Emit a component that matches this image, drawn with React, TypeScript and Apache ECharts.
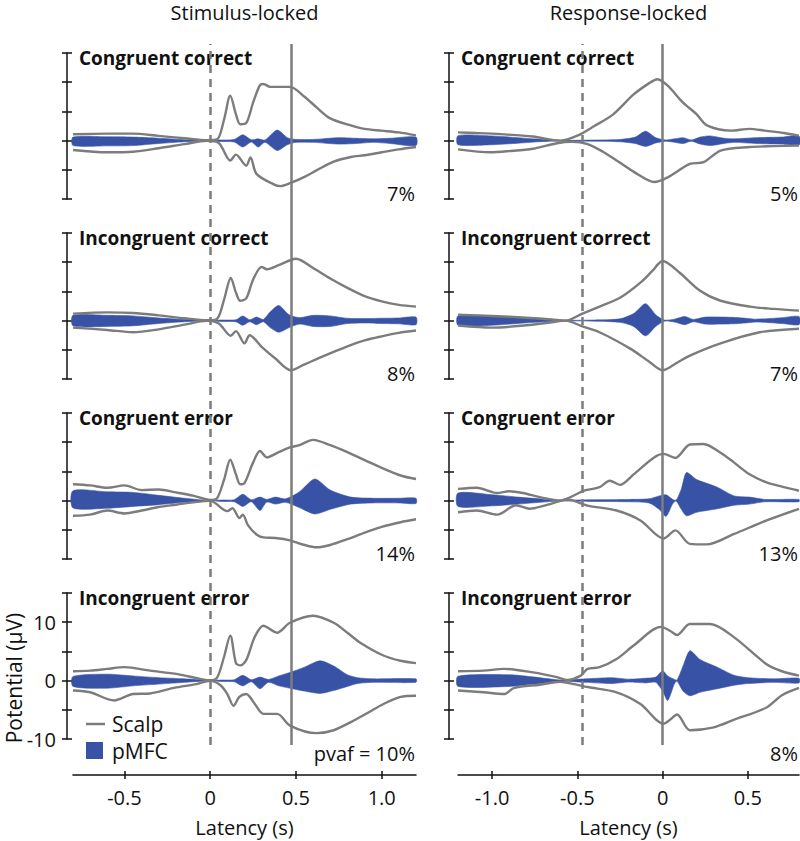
import React, { useEffect, useRef } from "react";
import * as echarts from "echarts";

type P = [number, number];
type B = [number, number, number];

const columnTitles = ["Stimulus-locked", "Response-locked"];
const panelTitles = ["Congruent correct", "Incongruent correct", "Congruent error", "Incongruent error"];
const stimPvaf = ["7%", "8%", "14%", "pvaf = 10%"];
const respPvaf = ["5%", "7%", "13%", "8%"];
const stimXRange = [-0.8, 1.2];
const respXRange = [-1.2, 0.8];
const stimXTicks = [-0.5, 0, 0.5, 1.0];
const respXTicks = [-1.0, -0.5, 0, 0.5];
const yRange = [-10, 15];
const yLabelTicks = [-10, 0, 10];
const stimMarkers = [0, 0.465]; // dashed, solid
const respMarkers = [-0.465, 0]; // dashed, solid

// ---------- Stimulus-locked ----------
const stimCCScalpUpper: P[] = [[-0.8,1.1],[-0.6,1.2],[-0.45,1.2],[-0.3,0.8],[-0.15,0.4],[-0.02,0.05],[0.04,0.2],[0.08,3.5],[0.117,7.7],[0.15,4.5],[0.175,2.8],[0.21,3.0],[0.25,6.5],[0.29,9.5],[0.31,9.7],[0.35,9.2],[0.465,9.2],[0.55,7.5],[0.62,5.7],[0.7,3.8],[0.82,2.6],[0.9,2.0],[1.0,1.7],[1.1,1.4],[1.2,0.9]];
const stimCCScalpLower: P[] = [[-0.8,-1.6],[-0.6,-2.0],[-0.45,-1.9],[-0.3,-1.3],[-0.15,-0.6],[-0.02,-0.05],[0.05,-0.4],[0.117,-3.4],[0.15,-2.4],[0.21,-4.3],[0.235,-2.9],[0.27,-5.7],[0.37,-7.5],[0.41,-7.8],[0.465,-7.3],[0.55,-6.2],[0.62,-5.1],[0.72,-3.6],[0.82,-2.8],[0.9,-2.5],[1.0,-2.0],[1.1,-1.5],[1.2,-1.1]];
const stimCCPmfc: B[] = [[-0.8,-0.85,0.6],[-0.6,-0.9,0.65],[-0.45,-0.85,0.6],[-0.3,-0.5,0.4],[-0.15,-0.2,0.15],[-0.03,-0.05,0.05],[0.05,-0.15,0.1],[0.14,-0.25,0.2],[0.19,-1.1,1.0],[0.24,-0.25,0.15],[0.28,-1.1,0.3],[0.32,-0.3,0.1],[0.39,-1.7,1.8],[0.45,-0.7,0.5],[0.5,-0.3,0.2],[0.6,-0.3,0.2],[0.75,-0.6,0.5],[0.85,-0.5,0.4],[0.95,-0.3,0.3],[1.05,-0.5,0.4],[1.2,-0.85,0.6]];

const stimICScalpUpper: P[] = [[-0.8,1.2],[-0.6,1.4],[-0.45,1.3],[-0.3,0.9],[-0.15,0.4],[-0.02,0.05],[0.04,0.3],[0.08,3.5],[0.12,7.3],[0.15,4.8],[0.175,3.4],[0.21,3.8],[0.25,7.0],[0.3,9.2],[0.33,8.8],[0.4,9.5],[0.5,10.6],[0.6,9.0],[0.7,7.2],[0.8,5.6],[0.9,4.2],[1.0,3.3],[1.1,2.7],[1.2,2.4]];
const stimICScalpLower: P[] = [[-0.8,-1.2],[-0.6,-1.6],[-0.45,-2.0],[-0.3,-1.5],[-0.15,-0.7],[-0.02,-0.05],[0.05,-0.5],[0.12,-2.6],[0.15,-1.8],[0.2,-3.9],[0.23,-2.5],[0.3,-4.5],[0.38,-6.5],[0.47,-8.5],[0.55,-7.5],[0.65,-6.2],[0.8,-4.4],[0.9,-3.4],[1.0,-2.7],[1.1,-2.1],[1.2,-1.7]];
const stimICPmfc: B[] = [[-0.8,-0.9,0.9],[-0.6,-1.0,0.9],[-0.45,-0.9,0.8],[-0.3,-0.5,0.45],[-0.15,-0.2,0.2],[-0.03,-0.05,0.05],[0.08,-0.15,0.1],[0.15,-0.2,0.15],[0.19,-0.8,0.8],[0.23,-0.2,0.15],[0.27,-0.7,0.6],[0.31,-0.2,0.2],[0.35,-1.2,1.5],[0.4,-2.0,2.6],[0.46,-1.2,1.0],[0.52,-0.6,0.5],[0.6,-1.0,0.9],[0.7,-1.0,0.8],[0.8,-0.5,0.4],[0.9,-0.4,0.35],[1.0,-0.5,0.4],[1.1,-0.55,0.45],[1.2,-0.7,0.6]];

const stimCEScalpUpper: P[] = [[-0.8,2.8],[-0.7,2.6],[-0.6,2.2],[-0.5,2.6],[-0.4,1.8],[-0.3,1.9],[-0.2,1.4],[-0.1,0.85],[0,0.1],[0.04,0.4],[0.08,3.5],[0.117,7.0],[0.15,4.5],[0.175,2.8],[0.2,3.0],[0.25,6.5],[0.29,8.5],[0.33,7.4],[0.4,8.3],[0.465,9.1],[0.52,9.5],[0.6,10.4],[0.7,9.5],[0.8,8.3],[0.91,6.8],[1.0,5.6],[1.11,4.3],[1.2,3.7]];
const stimCEScalpLower: P[] = [[-0.8,-2.6],[-0.7,-2.4],[-0.6,-1.7],[-0.5,-2.2],[-0.4,-1.7],[-0.3,-1.1],[-0.2,-0.7],[-0.1,-0.3],[0,-0.05],[0.1,-1.8],[0.13,-1.3],[0.17,-3.0],[0.19,-2.4],[0.22,-4.2],[0.27,-5.8],[0.31,-6.3],[0.38,-6.4],[0.465,-6.8],[0.55,-7.6],[0.62,-8.0],[0.7,-7.6],[0.8,-6.6],[0.91,-5.4],[1.0,-4.5],[1.11,-3.7],[1.2,-3.2]];
const stimCEPmfc: B[] = [[-0.8,-1.25,1.7],[-0.6,-1.3,1.5],[-0.45,-1.0,1.4],[-0.3,-0.7,0.9],[-0.15,-0.3,0.4],[-0.02,-0.05,0.05],[0.08,-0.15,0.1],[0.14,-0.2,0.15],[0.19,-1.0,1.1],[0.24,-0.2,0.15],[0.29,-1.7,0.6],[0.33,-0.25,0.2],[0.38,-0.6,0.6],[0.44,-0.3,0.3],[0.52,-1.2,1.5],[0.61,-2.3,3.7],[0.7,-1.5,1.8],[0.82,-0.6,0.6],[0.95,-0.4,0.4],[1.1,-0.4,0.4],[1.2,-0.5,0.4]];

const stimIEScalpUpper: P[] = [[-0.8,1.6],[-0.7,1.7],[-0.6,2.0],[-0.5,2.3],[-0.35,1.7],[-0.19,1.1],[-0.06,0.3],[0,0.05],[0.04,0.5],[0.08,4.0],[0.117,7.7],[0.15,3.0],[0.175,2.6],[0.21,3.5],[0.26,7.5],[0.31,9.4],[0.39,8.2],[0.465,9.9],[0.6,11.1],[0.72,9.9],[0.8,8.2],[0.875,6.5],[1.01,4.3],[1.11,3.4],[1.2,3.0]];
const stimIEScalpLower: P[] = [[-0.8,-1.7],[-0.7,-2.0],[-0.56,-3.4],[-0.45,-2.3],[-0.35,-2.2],[-0.21,-1.25],[-0.08,-0.6],[0,-0.05],[0.06,-0.8],[0.1,-2.3],[0.136,-4.3],[0.17,-2.8],[0.21,-2.3],[0.26,-4.0],[0.31,-5.7],[0.39,-5.7],[0.465,-7.7],[0.62,-9.0],[0.72,-8.5],[0.82,-7.1],[0.92,-5.5],[1.01,-4.0],[1.11,-2.8],[1.2,-2.6]];
const stimIEPmfc: B[] = [[-0.8,-1.0,0.7],[-0.6,-1.3,1.1],[-0.45,-0.9,0.8],[-0.3,-0.6,0.5],[-0.15,-0.3,0.3],[-0.02,-0.05,0.05],[0.08,-0.15,0.1],[0.14,-0.2,0.15],[0.19,-0.9,0.9],[0.24,-0.2,0.15],[0.29,-1.4,0.6],[0.34,-0.3,0.2],[0.4,-0.9,0.8],[0.465,-1.3,1.4],[0.55,-1.8,2.3],[0.64,-2.2,3.4],[0.72,-1.7,2.5],[0.8,-1.0,1.0],[0.86,-0.5,0.5],[0.95,-0.3,0.3],[1.2,-0.3,0.3]];

// ---------- Response-locked ----------
const respCCScalpUpper: P[] = [[-1.2,1.4],[-1.1,1.3],[-0.95,1.1],[-0.76,0.7],[-0.6,0.0],[-0.5,0.85],[-0.4,2.5],[-0.29,4.5],[-0.17,7.9],[-0.08,9.8],[-0.03,10.5],[0.03,9.4],[0.12,6.5],[0.2,4.5],[0.26,2.6],[0.4,1.7],[0.51,2.0],[0.6,1.7],[0.71,1.3],[0.8,0.85]];
const respCCScalpLower: P[] = [[-1.2,-1.5],[-1.01,-2.0],[-0.9,-1.8],[-0.76,-1.4],[-0.62,-0.45],[-0.53,-0.2],[-0.44,-0.6],[-0.35,-1.9],[-0.27,-3.4],[-0.15,-5.7],[-0.05,-7.1],[0.03,-6.3],[0.16,-4.0],[0.24,-3.7],[0.34,-1.7],[0.51,-1.1],[0.65,-0.95],[0.8,-0.85]];
const respCCPmfc: B[] = [[-1.2,-0.7,0.85],[-1.0,-0.7,0.8],[-0.85,-0.45,0.5],[-0.7,-0.15,0.2],[-0.6,-0.05,0.05],[-0.4,-0.1,0.1],[-0.25,-0.2,0.2],[-0.16,-0.5,0.6],[-0.1,-1.0,1.6],[-0.04,-0.4,0.5],[0.02,-0.1,0.1],[0.07,-0.3,0.3],[0.12,-0.5,0.5],[0.17,-0.1,0.1],[0.22,-0.6,0.6],[0.28,-0.85,0.8],[0.36,-0.5,0.4],[0.42,-0.3,0.3],[0.55,-0.5,0.5],[0.7,-0.6,0.6],[0.8,-0.8,0.8]];

const respICScalpUpper: P[] = [[-1.2,1.0],[-1.0,0.8],[-0.8,0.5],[-0.65,0.2],[-0.57,0.0],[-0.47,1.2],[-0.37,2.4],[-0.25,3.9],[-0.13,6.5],[-0.06,8.5],[0.0,10.2],[0.1,8.2],[0.22,5.1],[0.34,3.4],[0.51,2.4],[0.65,2.0],[0.8,1.7]];
const respICScalpLower: P[] = [[-1.2,-0.85],[-1.0,-1.2],[-0.8,-0.8],[-0.65,-0.3],[-0.57,0.0],[-0.47,-1.0],[-0.37,-2.0],[-0.19,-4.8],[-0.08,-7.0],[0.0,-8.5],[0.08,-7.3],[0.16,-6.0],[0.34,-3.9],[0.57,-2.0],[0.8,-1.4]];
const respICPmfc: B[] = [[-1.2,-0.8,0.8],[-1.0,-0.8,0.8],[-0.85,-0.5,0.5],[-0.7,-0.2,0.2],[-0.6,-0.05,0.05],[-0.4,-0.1,0.1],[-0.25,-0.3,0.3],[-0.17,-1.0,1.2],[-0.1,-2.6,2.9],[-0.04,-1.0,1.0],[0.01,-0.1,0.1],[0.07,-0.25,0.25],[0.13,-0.7,0.7],[0.18,-0.2,0.2],[0.25,-0.6,0.6],[0.35,-0.6,0.6],[0.45,-0.5,0.5],[0.55,-0.25,0.25],[0.7,-0.5,0.5],[0.8,-0.7,0.7]];

const respCEScalpUpper: P[] = [[-1.2,2.0],[-1.09,2.2],[-0.97,1.3],[-0.9,1.6],[-0.82,1.3],[-0.72,0.6],[-0.6,0.0],[-0.54,0.6],[-0.46,1.7],[-0.37,2.3],[-0.31,3.4],[-0.25,2.7],[-0.17,4.5],[-0.05,7.4],[0.006,8.0],[0.075,7.3],[0.16,9.6],[0.24,9.7],[0.34,8.2],[0.42,6.5],[0.51,4.5],[0.61,3.1],[0.7,2.4],[0.8,1.7]];
const respCEScalpLower: P[] = [[-1.2,-2.0],[-1.09,-1.7],[-0.97,-2.4],[-0.86,-0.8],[-0.78,-1.4],[-0.66,-0.6],[-0.56,0.2],[-0.44,-0.85],[-0.27,-1.7],[-0.13,-3.4],[0.006,-6.5],[0.075,-5.1],[0.16,-7.4],[0.26,-7.5],[0.42,-5.7],[0.61,-3.4],[0.8,-1.4]];
const respCEPmfc: B[] = [[-1.2,-1.0,1.3],[-1.0,-0.9,1.0],[-0.85,-0.6,0.6],[-0.7,-0.25,0.25],[-0.6,-0.08,0.08],[-0.4,-0.15,0.15],[-0.2,-0.2,0.2],[-0.08,-0.4,0.3],[-0.02,-1.5,0.8],[0.02,-2.7,1.0],[0.06,-0.5,0.2],[0.08,-0.1,0.1],[0.11,-1.5,2.0],[0.14,-2.6,4.8],[0.2,-2.0,3.6],[0.32,-1.4,2.3],[0.42,-0.8,0.8],[0.51,-0.6,0.6],[0.6,-0.2,0.2],[0.8,-0.2,0.2]];

const respIEScalpUpper: P[] = [[-1.2,1.6],[-1.05,1.7],[-0.93,2.0],[-0.76,1.4],[-0.62,0.6],[-0.56,0.1],[-0.48,0.85],[-0.44,2.0],[-0.37,2.3],[-0.27,3.7],[-0.17,6.0],[-0.01,9.2],[0.045,8.5],[0.085,7.8],[0.16,9.7],[0.28,9.7],[0.42,7.4],[0.61,2.8],[0.7,1.6],[0.8,0.85]];
const respIEScalpLower: P[] = [[-1.2,-1.7],[-1.05,-2.0],[-0.93,-2.3],[-0.87,-1.25],[-0.72,-0.7],[-0.6,-0.2],[-0.52,-0.6],[-0.44,-1.1],[-0.27,-2.0],[-0.13,-4.0],[0.006,-7.4],[0.04,-6.8],[0.085,-5.8],[0.16,-8.5],[0.3,-8.0],[0.42,-6.7],[0.61,-4.6],[0.7,-2.5],[0.8,-1.25]];
const respIEPmfc: B[] = [[-1.2,-1.0,0.75],[-0.9,-1.0,1.0],[-0.75,-0.6,0.6],[-0.6,-0.1,0.1],[-0.45,-0.3,0.3],[-0.3,-0.5,0.5],[-0.2,-0.25,0.25],[-0.1,-0.4,0.4],[-0.04,-0.3,0.6],[0.0,-1.8,1.7],[0.03,-3.4,0.8],[0.07,-0.5,0.2],[0.085,-0.1,0.1],[0.12,-1.8,2.5],[0.16,-2.6,5.1],[0.22,-2.0,3.6],[0.32,-1.4,2.3],[0.42,-0.8,0.9],[0.5,-0.5,0.5],[0.65,-0.3,0.3],[0.8,-0.4,0.4]];

const panels = [
  { col: 0, row: 0, upper: stimCCScalpUpper, lower: stimCCScalpLower, band: stimCCPmfc },
  { col: 0, row: 1, upper: stimICScalpUpper, lower: stimICScalpLower, band: stimICPmfc },
  { col: 0, row: 2, upper: stimCEScalpUpper, lower: stimCEScalpLower, band: stimCEPmfc },
  { col: 0, row: 3, upper: stimIEScalpUpper, lower: stimIEScalpLower, band: stimIEPmfc },
  { col: 1, row: 0, upper: respCCScalpUpper, lower: respCCScalpLower, band: respCCPmfc },
  { col: 1, row: 1, upper: respICScalpUpper, lower: respICScalpLower, band: respICPmfc },
  { col: 1, row: 2, upper: respCEScalpUpper, lower: respCEScalpLower, band: respCEPmfc },
  { col: 1, row: 3, upper: respIEScalpUpper, lower: respIEScalpLower, band: respIEPmfc },
];

const FONT = "'Open Sans', 'Noto Sans', sans-serif";
const BLUE = "#3853a6";
const GRAY = "#7c7c7c";
const INK = "#111111";
const GRID_LEFT = [73, 458];
const GRID_WIDTH = [343, 341];
const GRID_TOP0 = 53;
const ROW_STEP = 180;
const GRID_H = 146;
const Y_OFFSET = [6, 9];

const fmtX = (v: number) => (v === 0 ? "0" : v.toFixed(1));

function buildOption() {
  const grid: any[] = [];
  const xAxis: any[] = [];
  const yAxis: any[] = [];
  const series: any[] = [];
  const graphic: any[] = [];

  panels.forEach((p) => {
    const top = GRID_TOP0 + p.row * ROW_STEP;
    grid.push({ left: GRID_LEFT[p.col], top, width: GRID_WIDTH[p.col], height: GRID_H });
    const gi = grid.length - 1;
    const range = p.col === 0 ? stimXRange : respXRange;
    const ticks = p.col === 0 ? stimXTicks : respXTicks;
    const bottom = p.row === 3;
    const xi = xAxis.length;
    xAxis.push({
      gridIndex: gi, type: "value", min: range[0], max: range[1], show: bottom,
      position: "bottom", offset: 36,
      axisLine: { show: true, onZero: false, lineStyle: { color: INK, width: 1.5 } },
      axisTick: { show: true, inside: false, length: 4, customValues: ticks, lineStyle: { color: INK, width: 1.5 } },
      axisLabel: { show: true, customValues: ticks, formatter: fmtX, fontSize: 20, color: INK, margin: 12, fontFamily: FONT },
      splitLine: { show: false },
      name: bottom ? "Latency (s)" : "", nameLocation: "middle", nameGap: 42,
      nameTextStyle: { fontSize: 20, color: INK, fontFamily: FONT },
    });
    if (bottom) {
      xAxis.push({
        gridIndex: gi, type: "value", min: range[0], max: range[1], show: true,
        position: "bottom", offset: 36,
        axisLine: { show: false, onZero: false },
        axisTick: { show: true, inside: true, length: 4, customValues: ticks, lineStyle: { color: INK, width: 1.5 } },
        axisLabel: { show: false }, splitLine: { show: false },
      });
    }
    const yi = yAxis.length;
    const showLabels = p.col === 0 && p.row === 3;
    yAxis.push({
      gridIndex: gi, type: "value", min: yRange[0], max: yRange[1], interval: 5,
      position: "left", offset: Y_OFFSET[p.col],
      axisLine: { show: true, onZero: false, lineStyle: { color: INK, width: 1.5 } },
      axisTick: { show: true, inside: false, length: 5, lineStyle: { color: INK, width: 1.5 } },
      axisLabel: { show: showLabels, customValues: yLabelTicks, fontSize: 20, color: INK, margin: 11, fontFamily: FONT },
      splitLine: { show: false },
    });
    yAxis.push({
      gridIndex: gi, type: "value", min: yRange[0], max: yRange[1], interval: 5,
      position: "left", offset: Y_OFFSET[p.col],
      axisLine: { show: false, onZero: false },
      axisTick: { show: true, inside: true, length: 5, lineStyle: { color: INK, width: 1.5 } },
      axisLabel: { show: false }, splitLine: { show: false },
    });

    const band = p.band;
    series.push({
      type: "custom", name: "pMFC", xAxisIndex: xi, yAxisIndex: yi,
      data: band, encode: { x: 0, y: [1, 2] }, silent: true, z: 3,
      renderItem: (params: any, api: any) => {
        if (params.dataIndex !== 0) return null;
        const topPts: number[][] = [];
        const botPts: number[][] = [];
        for (let j = 0; j < band.length; j++) {
          topPts.push(api.coord([band[j][0], band[j][2]]));
          botPts.push(api.coord([band[j][0], band[j][1]]));
        }
        return {
          type: "polygon",
          shape: { points: topPts.concat(botPts.reverse()), smooth: 0.25 },
          style: { fill: BLUE, stroke: BLUE, lineWidth: 0.6 },
        };
      },
    });
    [p.upper, p.lower].forEach((d) => {
      series.push({
        type: "line", name: "Scalp", xAxisIndex: xi, yAxisIndex: yi, data: d,
        symbol: "none", smooth: 0.3, lineStyle: { color: GRAY, width: 2.4 }, silent: true, z: 4,
      });
    });

    graphic.push({
      type: "text", x: p.col === 0 ? 79 : 461, y: top + 5,
      style: { text: panelTitles[p.row], align: "left", verticalAlign: "middle", fontSize: 19, fontWeight: "bold", fontFamily: FONT, fill: INK },
    });
    const pv = (p.col === 0 ? stimPvaf : respPvaf)[p.row];
    graphic.push({
      type: "text", x: p.col === 0 ? 415 : 798, y: p.row === 3 ? 753 : top + 140,
      style: { text: pv, align: "right", verticalAlign: "middle", fontSize: 20, fontFamily: FONT, fill: INK },
    });
  });

  [0, 1].forEach((col) => {
    grid.push({ left: GRID_LEFT[col], width: GRID_WIDTH[col], top: 44, height: 701 });
    const gi = grid.length - 1;
    const range = col === 0 ? stimXRange : respXRange;
    const marks = col === 0 ? stimMarkers : respMarkers;
    const xi = xAxis.length;
    xAxis.push({ gridIndex: gi, type: "value", min: range[0], max: range[1], show: false });
    const yi = yAxis.length;
    yAxis.push({ gridIndex: gi, type: "value", min: 0, max: 1, show: false });
    series.push({
      type: "line", xAxisIndex: xi, yAxisIndex: yi, data: [], silent: true, z: 2,
      markLine: {
        symbol: ["none", "none"], silent: true, label: { show: false }, animation: false,
        data: [
          { xAxis: marks[0], lineStyle: { type: [8, 6], color: GRAY, width: 2.5 } },
          { xAxis: marks[1], lineStyle: { type: "solid", color: GRAY, width: 2.5 } },
        ],
      },
    });
    graphic.push({
      type: "text", x: GRID_LEFT[col] + GRID_WIDTH[col] / 2, y: 2,
      style: { text: columnTitles[col], align: "center", verticalAlign: "top", fontSize: 20, fontFamily: FONT, fill: INK },
    });
  });

  graphic.push({
    type: "text", x: 14, y: 678, rotation: Math.PI / 2,
    style: { text: "Potential (µV)", align: "center", verticalAlign: "middle", fontSize: 21, fontFamily: FONT, fill: INK },
  });
  graphic.push({ type: "line", shape: { x1: 86, y1: 724, x2: 105, y2: 724 }, style: { stroke: GRAY, lineWidth: 2.5 } });
  graphic.push({ type: "text", x: 112, y: 724, style: { text: "Scalp", align: "left", verticalAlign: "middle", fontSize: 21, fontFamily: FONT, fill: INK } });
  graphic.push({ type: "rect", shape: { x: 86, y: 742, width: 17, height: 17 }, style: { fill: BLUE } });
  graphic.push({ type: "text", x: 112, y: 751, style: { text: "pMFC", align: "left", verticalAlign: "middle", fontSize: 21, fontFamily: FONT, fill: INK } });

  return {
    animation: false,
    backgroundColor: "#ffffff",
    textStyle: { fontFamily: FONT },
    grid, xAxis, yAxis, series, graphic,
  };
}

export default function App() {
  const ref = useRef<HTMLDivElement>(null);
  useEffect(() => {
    if (!ref.current) return;
    const chart = echarts.init(ref.current, undefined, { renderer: "svg" });
    chart.setOption(buildOption() as any);
    return () => chart.dispose();
  }, []);
  return <div ref={ref} style={{ position: "fixed", left: 0, top: 0, width: 800, height: 841 }} />;
}
